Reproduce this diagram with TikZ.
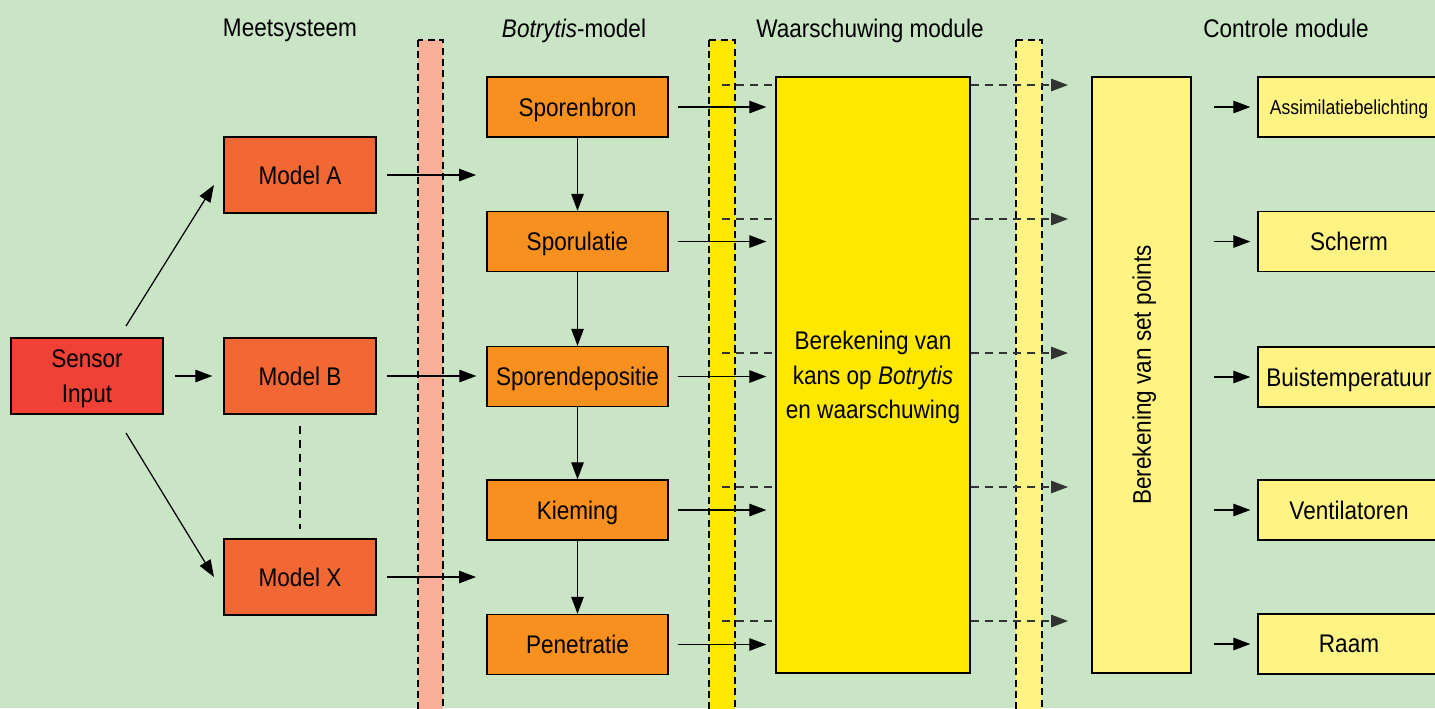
\documentclass[tikz,border=0pt]{standalone}
\usepackage{fontspec}
\setmainfont{Liberation Sans}[FakeStretch=0.885]
\newfontfamily\smallfam{Liberation Sans}[FakeStretch=0.87]
\usetikzlibrary{arrows.meta,calc}
\definecolor{bg}{HTML}{CAE4C6}
\definecolor{sensred}{HTML}{EF4136}
\definecolor{modorange}{HTML}{F26835}
\definecolor{botorange}{HTML}{F7901E}
\definecolor{yel}{HTML}{FFE800}
\definecolor{lyel}{HTML}{FFF383}
\definecolor{salmon}{HTML}{F9AF98}
\definecolor{dashgray}{HTML}{333333}
\tikzset{
  txt/.style={font=\fontsize{14.5}{19.5}\selectfont, align=center, text depth=0pt},
  box/.style={draw=black, line width=0.8pt, inner sep=0pt, txt},
  sensbox/.style={box, fill=sensred, minimum width=3.04cm, minimum height=1.52cm},
  modbox/.style={box, fill=modorange, minimum width=3.04cm, minimum height=1.52cm},
  botbox/.style={box, fill=botorange, minimum width=3.62cm, minimum height=1.2cm},
  outbox/.style={box, fill=lyel, minimum width=3.64cm, minimum height=1.2cm},
  arr/.style={line width=0.7pt, -{Triangle[length=0.34cm, width=0.25cm]}},
  dsh/.style={line width=0.8pt, draw=dashgray, dash pattern=on 4.5pt off 3.5pt},
  sepbar/.style={draw=black, line width=0.7pt, dash pattern=on 4pt off 2.5pt},
  hdr/.style={txt}
}
\begin{document}
\begin{tikzpicture}[x=0.02cm, y=-0.02cm]
\useasboundingbox (0,0) rectangle (1435,708);
\clip (0,0) rectangle (1435,708);
\fill[bg] (0,0) rectangle (1435,708);

% separator bars
\draw[sepbar, fill=salmon] (418,40) rectangle (443,720);
\draw[sepbar, fill=yel] (709,40) rectangle (735,720);
\draw[sepbar, fill=lyel] (1016,40) rectangle (1042,720);

% headers
\node[hdr] (h1) at (290,28) {Meetsysteem};
\node[hdr] (h2) at (574,28) {\textit{Botrytis}-model};
\node[hdr] (h3) at (870,28) {Waarschuwing module};
\node[hdr] (h4) at (1286,28) {Controle module};

% meetsysteem
\node[sensbox] (sensor) at (87,376) {Sensor\\Input};
\node[modbox] (mA) at (300,175) {Model A};
\node[modbox] (mB) at (300,376) {Model B};
\node[modbox] (mX) at (300,577) {Model X};

% botrytis model
\node[botbox] (b1) at (577.5,107) {Sporenbron};
\node[botbox] (b2) at (577.5,241.5) {Sporulatie};
\node[botbox] (b3) at (577.5,376.5) {Sporendepositie};
\node[botbox] (b4) at (577.5,510) {Kieming};
\node[botbox] (b5) at (577.5,644.5) {Penetratie};

% warning module
\node[box, fill=yel, minimum width=3.88cm, minimum height=11.92cm] (calc) at (873,375)
  {Berekening van\\kans op \textit{Botrytis}\\en waarschuwing};

% control module
\node[box, fill=lyel, minimum width=1.98cm, minimum height=11.92cm] (setp) at (1141.5,375) {};
\node[txt, rotate=90] (setpl) at (setp.center) {Berekening van set points};

\node[outbox] (o1) at (1349,107) {\smallfam\fontsize{11.5}{14}\selectfont Assimilatiebelichting};
\node[outbox] (o2) at (1349,241.5) {Scherm};
\node[outbox] (o3) at (1349,377) {Buistemperatuur};
\node[outbox] (o4) at (1349,510) {Ventilatoren};
\node[outbox] (o5) at (1349,644) {Raam};

% sensor connectors
\coordinate (sA) at (126,326);
\coordinate (eA) at (214,185);
\coordinate (sX) at (126,433);
\coordinate (eX) at (214,577);
\draw[arr] (sA) -- (eA);
\draw[arr] (sX) -- (eX);
\draw[arr, shorten <=0.22cm, shorten >=0.22cm] (sensor.east) -- (sensor.east -| mB.west);
\draw[line width=0.7pt, dash pattern=on 4.5pt off 3.5pt, shorten <=0.22cm, shorten >=0.18cm] (mB) -- (mX);

% model -> botrytis
\coordinate (tA) at (476,175);
\coordinate (tX) at (476,577);
\draw[arr, shorten <=0.2cm] (mA.east) -- (tA);
\draw[arr, shorten <=0.2cm, shorten >=0.2cm] (mB.east) -- (mB.east -| b3.west);
\draw[arr, shorten <=0.2cm] (mX.east) -- (tX);

% botrytis chain
\draw[arr] (b1) -- (b2);
\draw[arr] (b2) -- (b3);
\draw[arr] (b3) -- (b4);
\draw[arr] (b4) -- (b5);

% botrytis -> calc
\foreach \b in {b1,b2,b3,b4,b5}{
  \draw[arr, shorten <=0.18cm, shorten >=0.18cm] (\b.east) -- (\b.east -| calc.west);
}

% dashed lines through calc
\foreach \i/\y in {1/85,2/219,3/353,4/487,5/621}{
  \coordinate (d\i) at (722,\y);
  \coordinate (e\i) at (1068,\y);
  \draw[dsh] (d\i) -- (d\i -| calc.west);
  \draw[dsh, -{Triangle[length=0.34cm, width=0.25cm]}] (d\i -| calc.east) -- (e\i);
}

% setpoints -> outputs
\foreach \o in {o1,o2,o3,o4,o5}{
  \draw[arr, shorten <=0.44cm, shorten >=0.14cm] (\o.west -| setp.east) -- (\o.west);
}
\end{tikzpicture}
\end{document}
